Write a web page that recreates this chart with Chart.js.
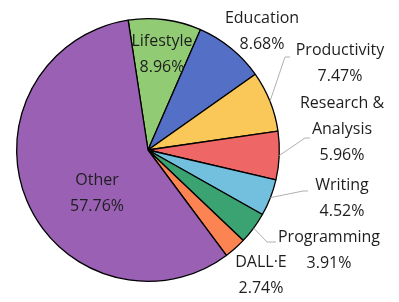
<!DOCTYPE html>
<html>
<head>
<meta charset="utf-8">
<script src="https://cdn.jsdelivr.net/npm/chart.js@4"></script>
<style>
  html, body { margin: 0; padding: 0; background: #fff; }
  #wrap { width: 399px; height: 302px; }
</style>
</head>
<body>
<div id="wrap"><canvas id="pieChart" width="399" height="302"></canvas></div>
<script>
// data
const categories = ['Lifestyle', 'Education', 'Productivity', 'Research & Analysis', 'Writing', 'Programming', 'DALL·E', 'Other'];
const shares = [8.96, 8.68, 7.47, 5.96, 4.52, 3.91, 2.74, 57.76];
const sliceColors = ['#91cc75', '#5470c6', '#fac858', '#ee6666', '#73c0de', '#3ba272', '#fc8452', '#9a60b4'];

// label text lines for each slice
const labelLines = [
  ['Lifestyle'], ['Education'], ['Productivity'], ['Research &', 'Analysis'],
  ['Writing'], ['Programming'], ['DALL·E'], ['Other']
];

/* ======================================
        LABEL LAYOUT (px from pie centre)
========================================*/
const labelPlace = [
  { text: [14, -96] },
  { text: [114, -119] },
  { text: [192, -87], elbow: [137, -93] },
  { text: [194, -21], elbow: [157, -12] },
  { text: [194, 48], elbow: [155, 41] },
  { text: [181, 100], elbow: [119, 92], tail: 9 },
  { text: [113, 125] },
  { text: [-51, 43] }
];

const pieLabels = {
  id: 'pieLabels',
  afterDatasetsDraw(chart) {
    const ctx = chart.ctx;
    const arcs = chart.getDatasetMeta(0).data;
    ctx.save();
    arcs.forEach((arc, i) => {
      const p = arc.getProps(['x', 'y', 'startAngle', 'endAngle', 'outerRadius'], true);
      const mid = (p.startAngle + p.endAngle) / 2;
      const place = labelPlace[i];
      // leader line
      if (place.elbow) {
        const sx = p.x + p.outerRadius * Math.cos(mid);
        const sy = p.y + p.outerRadius * Math.sin(mid);
        const ex = p.x + place.elbow[0];
        const ey = p.y + place.elbow[1];
        ctx.strokeStyle = '#b0b0b0';
        ctx.lineWidth = 1;
        ctx.beginPath();
        ctx.moveTo(sx, sy);
        ctx.lineTo(ex, ey);
        ctx.lineTo(ex + (place.tail || 5), ey);
        ctx.stroke();
      }
      const lines = labelLines[i].concat([shares[i].toFixed(2) + '%']);
      const lh = 26;
      const cx = p.x + place.text[0];
      const cy = p.y + place.text[1] - (lines.length - 1) * lh / 2;
      ctx.fillStyle = '#1e1e1e';
      ctx.font = '16px "Open Sans"';
      ctx.textAlign = 'center';
      ctx.textBaseline = 'middle';
      lines.forEach((ln, k) => ctx.fillText(ln, cx, cy + k * lh));
    });
    ctx.restore();
  }
};

let pieChart = new Chart(document.getElementById('pieChart').getContext('2d'), {
  type: 'pie',
  data: {
    labels: categories,
    datasets: [{
      data: shares,
      backgroundColor: sliceColors,
      borderColor: '#000',
      borderWidth: 1.3
    }]
  },
  options: {
    responsive: false,
    animation: false,
    rotation: -8.7,
    layout: { padding: { left: 16, right: 119, top: 18, bottom: 20 } },
    plugins: {
      legend: { display: false },
      tooltip: { enabled: false }
    }
  },
  plugins: [pieLabels]
});
</script>
</body>
</html>
